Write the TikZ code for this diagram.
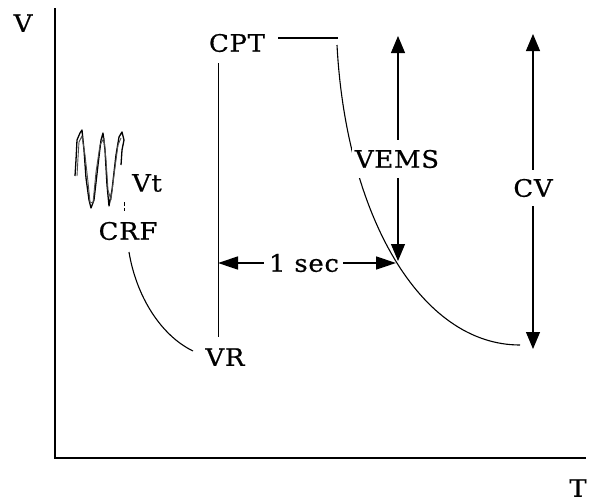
\documentclass[tikz,border=0pt]{standalone}
\usepackage{fontspec}
\setmainfont{DejaVu Serif}[FakeStretch=1.08, LetterSpace=3, FakeBold=0.6]
\usetikzlibrary{arrows.meta}
\begin{document}
\begin{tikzpicture}[x=1pt,y=-1pt,
  lbl/.style={font=\fontsize{24}{26}\selectfont, inner sep=1pt},
  axis/.style={line width=1.6pt},
  ln/.style={line width=1.1pt},
  thin line/.style={line width=0.8pt},
  arr/.style={line width=1.1pt,-{Triangle[length=17pt,width=14pt]}},
  harr/.style={line width=1.4pt,-{Triangle[length=20pt,width=13pt]}}]
\useasboundingbox (0,0) rectangle (589,501);
% axes
\coordinate (axtop) at (55,8);
\coordinate (orig) at (55,458);
\coordinate (axright) at (586,458);
\draw[axis] (axtop) -- (orig) -- (axright);
\node[lbl] (V) at (23,23) {V};
\node[lbl] (T) at (578,488) {T};
% labels
\node[lbl] (CPT) at (237,43) {CPT};
\node[lbl] (VR) at (225,357) {VR};
\node[lbl] (CRF) at (128,231) {CRF};
\node[lbl] (Vt) at (147,183) {Vt};
\node[lbl] (sec) at (304,263) {1 sec};
% main decay curve (drawn before VEMS so label can mask it)
\coordinate (c0) at (337,45);
\coordinate (cend) at (520,345);
\draw[ln] (c0) .. controls (346,215) and (420,345) .. (cend);
\node[lbl, fill=white, inner xsep=3pt, inner ysep=10pt] (VEMS) at (397,159) {VEMS};
\node[lbl, fill=white, inner ysep=9pt] (CV) at (533,188) {CV};
% CPT plateau
\coordinate (p1) at (278,38);
\coordinate (p2) at (338,38);
\draw[ln] (p1) -- (p2);
% VR vertical
\coordinate (vtop) at (218.5,63);
\coordinate (vbot) at (218.5,337);
\draw[thin line] (vtop) -- (vbot);
% VEMS arrows
\coordinate (vemsTop) at (398,36);
\coordinate (vemsBot) at (398,261);
\draw[arr] (VEMS.north -| vemsTop) -- (vemsTop);
\draw[arr] (VEMS.south -| vemsBot) -- (vemsBot);
% CV arrows
\coordinate (cvTop) at (533,34);
\coordinate (cvBot) at (533,349);
\draw[arr] (CV.north) -- (cvTop);
\draw[arr] (CV.south) -- (cvBot);
% 1 sec arrows
\coordinate (sL) at (218,263);
\coordinate (sR) at (396,263);
\draw[harr] (sec.west) ++(-4,0) -- (sL);
\draw[harr] (sec.east) ++(3,0) -- (sR);
% CRF curve
\coordinate (r0) at (129,252);
\coordinate (r1) at (193,351);
\draw[ln] (r0) .. controls (136,295) and (160,335) .. (r1);
% Vt waveform
\draw[line width=1.3pt, line join=round]
  (75,176) -- (76,160) -- (77,140) -- (80,133) -- (82,130) -- (84,150) -- (86,178)
  -- (89,200) -- (91,208) -- (94,200) -- (98,165) -- (101,140) -- (103,133)
  -- (105,150) -- (107,185) -- (109,206) -- (112,190) -- (116,155) -- (119,137) -- (122,132) -- (124,140) -- (122,150) -- (121,165);
\draw[line width=0.9pt, line join=round, gray!60!black]
  (77,176) -- (78,158) -- (79,142) -- (82,136) -- (85,155) -- (88,182)
  -- (90,202) -- (93,203) -- (96,172) -- (100,145) -- (104,138)
  -- (106,160) -- (108,190) -- (111,200) -- (114,175) -- (118,145) -- (121,138);
\coordinate (tk1) at (124,202);
\coordinate (tk2) at (124,211);
\draw[line width=0.8pt, dash pattern=on 4pt off 2pt] (tk1) -- (tk2);
\end{tikzpicture}
\end{document}
